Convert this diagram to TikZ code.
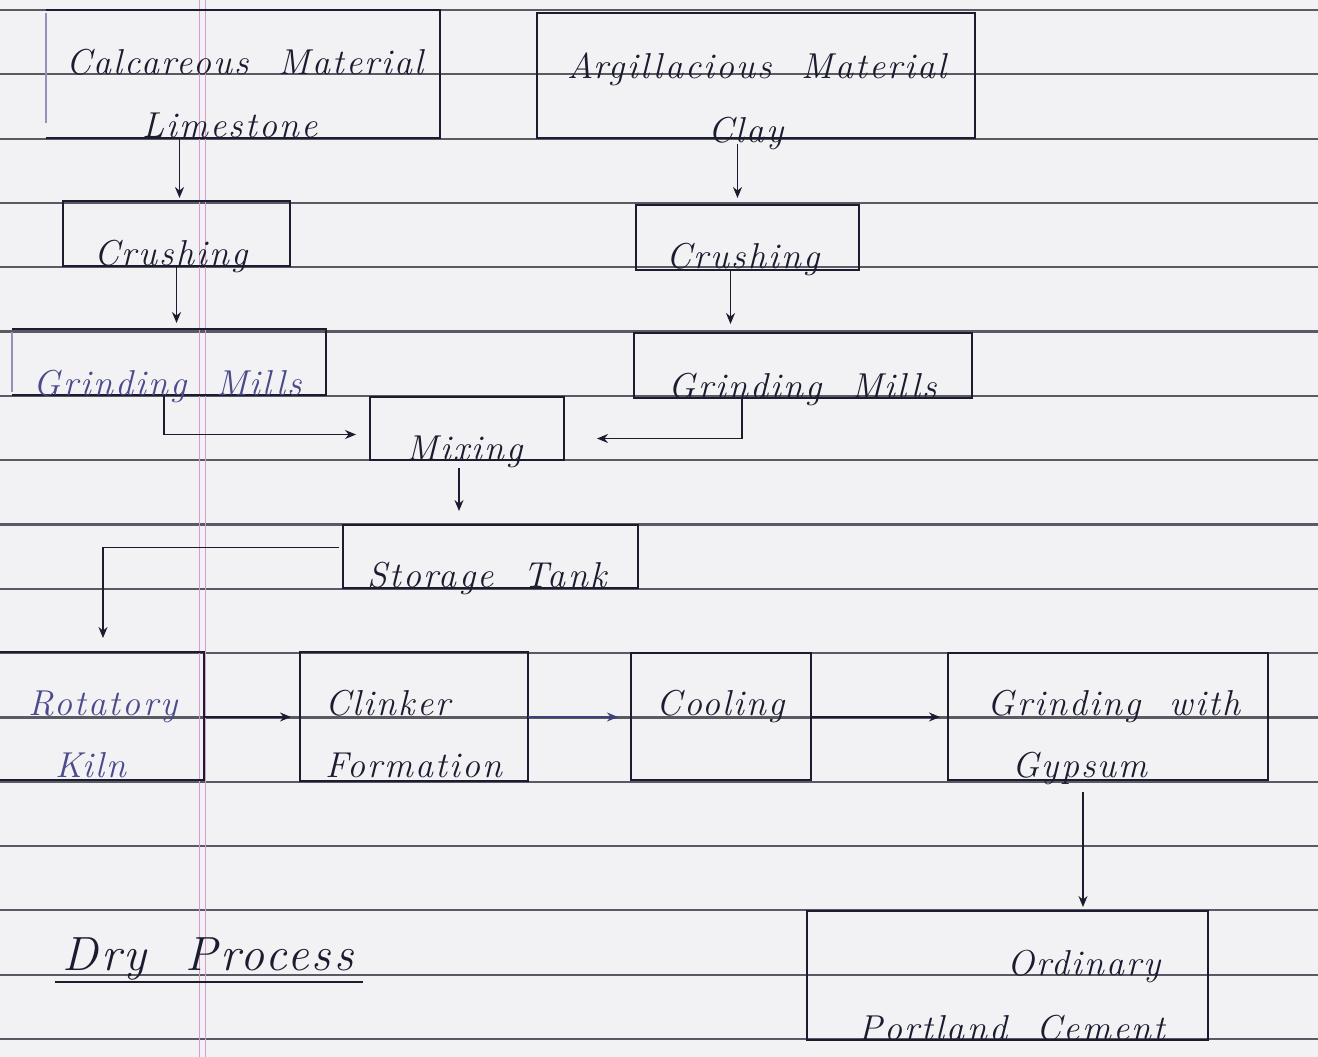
\documentclass[tikz,border=0pt]{standalone}
\usepackage{fontspec}
\newfontfamily\handfont{Latin Modern Roman}[LetterSpace=6.0,WordSpace=2.0]
\usetikzlibrary{arrows.meta,calc}
\definecolor{paper}{HTML}{F2F2F4}
\definecolor{rule}{HTML}{5A5A64}
\definecolor{ink}{HTML}{1C1C30}
\definecolor{blueink}{HTML}{4A4A8C}
\definecolor{marginc}{HTML}{D99ACF}
\begin{document}
\begin{tikzpicture}[x=1pt,y=-1pt,
  box/.style={rectangle,draw=ink,line width=1.6pt,inner sep=0pt,outer sep=0pt},
  openbox/.style={rectangle,draw=none,inner sep=0pt,outer sep=0pt},
  lbl/.style={anchor=base,inner sep=0pt,text=ink,font={\fontsize{36}{40}\handfont\itshape}},
  bluelbl/.style={lbl,text=blueink},
  arr/.style={draw=ink,line width=1.6pt,-{Stealth[length=11pt,width=9pt]}},
  rulel/.style={draw=rule,line width=2.2pt},
  marg/.style={draw=marginc,line width=1pt}]
% paper
\fill[paper] (0,0) rectangle (1318,1057);
\useasboundingbox (0,0) rectangle (1318,1057);
\foreach \k in {0,...,16} \draw[rulel] (0,{10+64.31*\k}) -- (1318,{10+64.31*\k});
\draw[marg] (199,0) -- (199,1057);
\draw[marg] (205,0) -- (205,1057);

% boxes
\node[openbox,minimum width=394,minimum height=128] (calc) at (243,74) {};
\draw[ink,line width=1.6pt] (calc.north west) -- (calc.north east) -- (calc.south east) -- (calc.south west);
\draw[blueink!60,line width=2pt] ($(calc.north west)+(0,3)$) -- ($(calc.south west)+(0,-15)$);
\node[box,minimum width=438,minimum height=125] (arg) at (756,75.5) {};
\node[box,minimum width=227,minimum height=65] (crushL) at (176.5,233.5) {};
\node[box,minimum width=223,minimum height=65] (crushR) at (747.5,237.5) {};
\node[openbox,minimum width=314,minimum height=66] (grindL) at (169,362) {};
\draw[ink,line width=1.6pt] (grindL.north west) -- (grindL.north east) -- (grindL.south east) -- (grindL.south west);
\draw[blueink!60,line width=2.5pt] ($(grindL.north west)+(0,3)$) -- ($(grindL.south west)+(0,-3)$);
\node[box,minimum width=338,minimum height=65] (grindR) at (803,365.5) {};
\node[box,minimum width=194,minimum height=63] (mix) at (467,428.5) {};
\node[box,minimum width=295,minimum height=63] (store) at (490.5,556.5) {};
\node[box,minimum width=214,minimum height=128] (kiln) at (97,716) {};
\node[box,minimum width=228,minimum height=129] (clinker) at (414,716.5) {};
\node[box,minimum width=180,minimum height=127] (cool) at (721,716.5) {};
\node[box,minimum width=320,minimum height=127] (gyp) at (1108,716.5) {};
\node[box,minimum width=401,minimum height=129] (opc) at (1007.5,975.5) {};

% labels
\node[lbl] (tcalc) at (245,75) {Calcareous Material};
\node[lbl] (tlime) at (230,137) {Limestone};
\node[lbl] (targ) at (757,78) {Argillacious Material};
\node[lbl] (tclay) at (746,142) {Clay};
\node[lbl] (tcrushL) at (171,265) {Crushing};
\node[lbl] (tcrushR) at (743,268) {Crushing};
\node[bluelbl] (tgrindL) at (168,395) {Grinding Mills};
\node[lbl] (tgrindR) at (803,398) {Grinding Mills};
\node[lbl] (tmix) at (465,460) {Mixing};
\node[lbl] (tstore) at (487,587) {Storage Tank};
\node[bluelbl] (tkiln1) at (103,715) {Rotatory};
\node[bluelbl] (tkiln2) at (91,777) {Kiln};
\node[lbl] (tclink1) at (388,715) {Clinker};
\node[lbl] (tclink2) at (414,777) {Formation};
\node[lbl] (tcool) at (721,715) {Cooling};
\node[lbl] (tgyp1) at (1114,715) {Grinding with};
\node[lbl] (tgyp2) at (1080,777) {Gypsum};
\node[lbl] (topc1) at (1084,975) {Ordinary};
\node[lbl] (topc2) at (1012,1040) {Portland Cement};
\node[lbl,font={\fontsize{48}{52}\handfont\itshape}] (tdry) at (208,970) {Dry Process};
\draw[ink,line width=2.6pt] ($(tdry.base west)+(-8,12)$) -- ($(tdry.base east)+(10,12)$);

% connectors
\draw[arr] ($(crushL.north |- calc.south)+(3,1)$) -- ($(crushL.north)+(3,-3)$);
\draw[arr] ($(crushR.north |- arg.south)+(-10,6)$) -- ($(crushR.north)+(-10,-7)$);
\draw[arr] (crushL.south) -- ($(crushL.south |- grindL.north)+(0,-6)$);
\draw[arr] ($(crushR.south)+(-17,0)$) -- ($(crushR.south |- grindR.north)+(-17,-9)$);
\draw[arr] ($(grindL.south)+(-5,0)$) |- ($(mix.west)+(-14,6)$);
\draw[arr] ($(grindR.south)+(-61,0)$) |- ($(mix.east)+(33,10)$);
\draw[arr] ($(mix.south)+(-8,8)$) -- ($(mix.south |- store.north)+(-8,-14)$);
\draw[arr] ($(store.west)+(-4,-9)$) -| ($(kiln.north)+(6,-14)$);
\draw[arr] ($(kiln.east)+(0,1)$) -- ($(clinker.west)+(-9,0.5)$);
\draw[arr,draw=blueink!80!ink,line width=2.6pt] ($(clinker.east)+(0,0.5)$) -- ($(cool.west)+(-13,0.5)$);
\draw[arr] ($(cool.east)+(0,0.5)$) -- ($(gyp.west)+(-8,0.5)$);
\draw[arr] ($(gyp.south)+(-25,12)$) -- ($(gyp.south |- opc.north)+(-25,-4)$);
\end{tikzpicture}
\end{document}
